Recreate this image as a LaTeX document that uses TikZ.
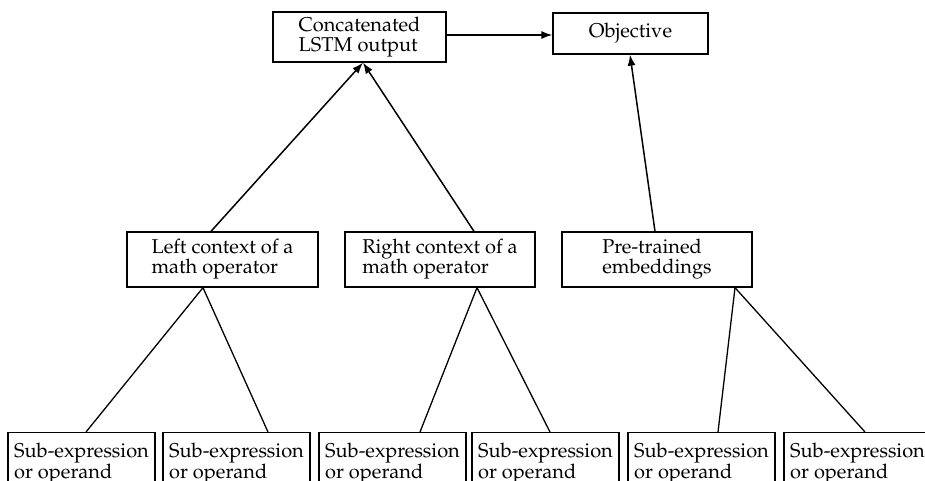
\documentclass[tikz,border=0pt]{standalone}
\usepackage[T1]{fontenc}
\usepackage{mathpazo}
\usetikzlibrary{arrows.meta,calc}
\begin{document}
\begin{tikzpicture}[x=1pt,y=-1pt,
  box/.style={draw,line width=1.3pt,inner xsep=0pt,inner ysep=10.7pt,font=\fontsize{20}{19}\selectfont},
  link/.style={line width=1.3pt},
  arr/.style={line width=1.5pt,-{Latex[length=11pt,width=8pt]}}]
\useasboundingbox (0,0) rectangle (925,480);
\clip (0,0) rectangle (925,480);
% top row
\node[box,minimum width=173pt,minimum height=50pt,inner ysep=0pt] (cat) at (359.5,37) {\begin{tabular}{@{}l@{}}Concatenated\\LSTM output\end{tabular}};
\node[box,minimum width=155pt,minimum height=41pt,inner ysep=0pt] (obj) at (630.5,33.5) {Objective};
% middle row
\node[box,minimum width=191pt,minimum height=55pt,inner ysep=0pt] (lc) at (222.5,259.5) {\begin{tabular}{@{}l@{}}Left context of a\\math operator\end{tabular}};
\node[box,minimum width=190pt,minimum height=55pt,inner ysep=0pt] (rc) at (440,259.5) {\begin{tabular}{@{}l@{}}Right context of a\\math operator\end{tabular}};
\node[box,minimum width=190pt,minimum height=55pt,inner ysep=0pt] (pre) at (657,259.5) {\begin{tabular}{@{}l@{}}Pre-trained\\embeddings\end{tabular}};
% bottom row
\foreach \n/\x in {b1/81.5,b2/236.5,b3/392.5,b4/545.5,b5/701.5,b6/857.5}{
  \node[box,minimum width=147pt,anchor=north] (\n) at (\x,432) {\begin{tabular}{@{}l@{}}Sub-expression\\or operand\end{tabular}};
}
% connectors
\coordinate (ca) at ($(cat.east)+(0,-2)$);
\draw[arr] (ca) -- (ca -| obj.west);
\draw[arr] ($(lc.north)+(-11.5,0)$) -- ($(cat.south)+(3.5,0)$);
\draw[arr] ($(rc.north)+(34,0)$) -- ($(cat.south)+(3.5,0)$);
\draw[arr] ($(pre.north)+(-2,0)$) -- ($(obj.south)+(-0.5,0)$);
\draw[link] ($(lc.south)+(-19.5,0)$) -- ($(b1.north)+(4.5,0)$);
\draw[link] ($(lc.south)+(-19.5,0)$) -- ($(b2.north)+(31.5,0)$);
\draw[link] ($(rc.south)+(37,0)$) -- ($(b3.north)+(27.5,0)$);
\draw[link] ($(rc.south)+(37,0)$) -- ($(b4.north)+(4.5,0)$);
\draw[link] ($(pre.south)+(78,0)$) -- ($(b5.north)+(16.5,0)$);
\draw[link] ($(pre.south)+(78,0)$) -- ($(b6.north)+(7.5,0)$);
\end{tikzpicture}
\end{document}
